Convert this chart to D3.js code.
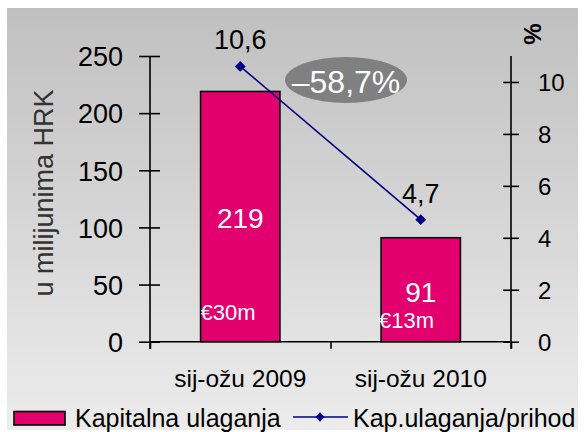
<!DOCTYPE html>
<html>
<head>
<meta charset="utf-8">
<script src="https://cdn.jsdelivr.net/npm/d3@7"></script>
<style>
  body { margin: 0; background: #fff; }
  svg { display: block; font-family: "Liberation Sans", Arial, sans-serif; }
</style>
</head>
<body>
<svg width="585" height="432"></svg>
<script>
// data
const categories = ['sij-ožu 2009', 'sij-ožu 2010'];
const capex = [219, 91];           // u milijunima HRK
const capexEur = ['€30m', '€13m'];
const capexShare = [10.6, 4.7];    // %
const leftTicks = [0, 50, 100, 150, 200, 250];
const rightTicks = [0, 2, 4, 6, 8, 10];
const changeLabel = '–58,7%';

const svg = d3.select('svg');
const fmt = d => String(d).replace('.', ',');

// background gradient
const grad = svg.append('defs').append('linearGradient')
  .attr('id', 'bg').attr('x1', 0).attr('y1', 0).attr('x2', 0).attr('y2', 1);
grad.append('stop').attr('offset', '0%').attr('stop-color', '#c0c0c0');
grad.append('stop').attr('offset', '100%').attr('stop-color', '#ececec');
svg.append('rect').attr('x', 7).attr('y', 8).attr('width', 571).attr('height', 422)
  .attr('fill', 'url(#bg)');

// scales
const x = d3.scaleBand().domain(categories).range([150, 511]);
const yL = d3.scaleLinear().domain([0, 250]).range([341.7, 56]);
const yR = d3.scaleLinear().domain([0, 11]).range([341.7, 56]);
const barW = x.bandwidth() * 0.44;
const cx = c => x(c) + x.bandwidth() / 2;

// bars
svg.append('g').selectAll('rect')
  .data(categories)
  .enter()
  .append('rect')
  .attr('x', c => cx(c) - barW / 2)
  .attr('y', (c, i) => yL(capex[i]))
  .attr('width', barW)
  .attr('height', (c, i) => yL(0) - yL(capex[i]))
  .attr('fill', '#e2006f')
  .attr('stroke', '#000')
  .attr('stroke-width', 1.5);

// axes
const axisL = svg.append('g').attr('transform', 'translate(150,0)')
  .call(d3.axisLeft(yL).tickValues(leftTicks).tickSize(11).tickPadding(16));
axisL.selectAll('.tick line').attr('x2', 10).attr('x1', -11);
const axisR = svg.append('g').attr('transform', 'translate(511,0)')
  .call(d3.axisRight(yR).tickValues(rightTicks).tickSize(8).tickPadding(19));
axisR.selectAll('.tick line').attr('x1', -8);
const axisB = svg.append('g').attr('transform', `translate(0,${yL(0)})`)
  .call(d3.axisBottom(d3.scaleLinear().domain([0, 2]).range([150, 511]))
    .tickValues([0, 1, 2]).tickSize(7).tickFormat(''));
[axisL, axisR, axisB].forEach(a => {
  a.select('.domain').remove();
  a.selectAll('.tick line').attr('stroke', '#000').attr('stroke-width', 1.6);
  a.selectAll('text').attr('fill', '#000').style('font-family', '"Liberation Sans", Arial, sans-serif');
});
axisL.selectAll('text').attr('font-size', 27).attr('dy', '0.36em');
axisR.selectAll('text').attr('font-size', 24).attr('dy', '0.36em');
// axis lines
svg.append('line').attr('x1', 150).attr('x2', 150).attr('y1', yL(250)).attr('y2', yL(0) + 7)
  .attr('stroke', '#000').attr('stroke-width', 1.6);
svg.append('line').attr('x1', 511).attr('x2', 511).attr('y1', yR(11)).attr('y2', yL(0) + 7)
  .attr('stroke', '#000').attr('stroke-width', 1.6);
svg.append('line').attr('x1', 150).attr('x2', 511).attr('y1', yL(0)).attr('y2', yL(0))
  .attr('stroke', '#000').attr('stroke-width', 1.6);

// category labels
svg.append('g').selectAll('text')
  .data(categories)
  .enter()
  .append('text')
  .attr('x', cx)
  .attr('y', 387)
  .attr('text-anchor', 'middle')
  .attr('font-size', 24.5)
  .text(d => d);

// axis titles
svg.append('text')
  .attr('transform', 'translate(53,193) rotate(-90)')
  .attr('text-anchor', 'middle')
  .attr('font-size', 27)
  .attr('fill', '#333')
  .text('u milijunima HRK');
svg.append('text')
  .attr('transform', 'translate(541,34) rotate(-90)')
  .attr('text-anchor', 'middle')
  .attr('font-size', 24)
  .attr('font-weight', 'bold')
  .text('%');

// bar value labels
svg.append('g').selectAll('text')
  .data(categories)
  .enter()
  .append('text')
  .attr('x', cx)
  .attr('y', (c, i) => i === 0 ? 228 : 301.7)
  .attr('text-anchor', 'middle')
  .attr('font-size', 28)
  .attr('fill', '#fff')
  .text((c, i) => capex[i]);
svg.append('g').selectAll('text')
  .data(categories)
  .enter()
  .append('text')
  .attr('x', (c, i) => cx(c) - barW / 2 + (i === 0 ? 0 : -2))
  .attr('y', (c, i) => i === 0 ? 320 : 328)
  .attr('font-size', 22)
  .attr('fill', '#fff')
  .text((c, i) => capexEur[i]);

// line series
const line = d3.line().x((d, i) => cx(categories[i])).y(d => yR(d));
svg.append('path')
  .datum(capexShare)
  .attr('d', line)
  .attr('fill', 'none')
  .attr('stroke', '#000080')
  .attr('stroke-width', 1.6);
const diamond = d3.symbol().type(d3.symbolDiamond2).size(75);
svg.append('g').selectAll('path')
  .data(capexShare)
  .enter()
  .append('path')
  .attr('d', diamond)
  .attr('transform', (d, i) => `translate(${cx(categories[i])},${yR(d)})`)
  .attr('fill', '#000080');
svg.append('g').selectAll('text')
  .data(capexShare)
  .enter()
  .append('text')
  .attr('x', (d, i) => cx(categories[i]))
  .attr('y', d => yR(d) - 17)
  .attr('text-anchor', 'middle')
  .attr('font-size', 27)
  .text(fmt);

// change bubble
svg.append('ellipse').attr('cx', 346).attr('cy', 80).attr('rx', 61).attr('ry', 23)
  .attr('fill', '#808080');
svg.append('text').attr('x', 346).attr('y', 93).attr('text-anchor', 'middle')
  .attr('font-size', 32).attr('fill', '#fff').text(changeLabel);

// legend
const leg = svg.append('g');
leg.append('rect').attr('x', 14).attr('y', 411.5).attr('width', 51).attr('height', 13.5)
  .attr('fill', '#e2006f').attr('stroke', '#000').attr('stroke-width', 1.6);
leg.append('text').attr('x', 75).attr('y', 426.5).attr('font-size', 25).text('Kapitalna ulaganja');
leg.append('line').attr('x1', 293).attr('x2', 348).attr('y1', 417).attr('y2', 417)
  .attr('stroke', '#000080').attr('stroke-width', 1.6);
leg.append('path').attr('d', d3.symbol().type(d3.symbolDiamond2).size(55))
  .attr('transform', 'translate(320,417)')
  .attr('fill', '#000080');
leg.append('text').attr('x', 353).attr('y', 426.5).attr('font-size', 25).text('Kap.ulaganja/prihod');
</script>
</body>
</html>
